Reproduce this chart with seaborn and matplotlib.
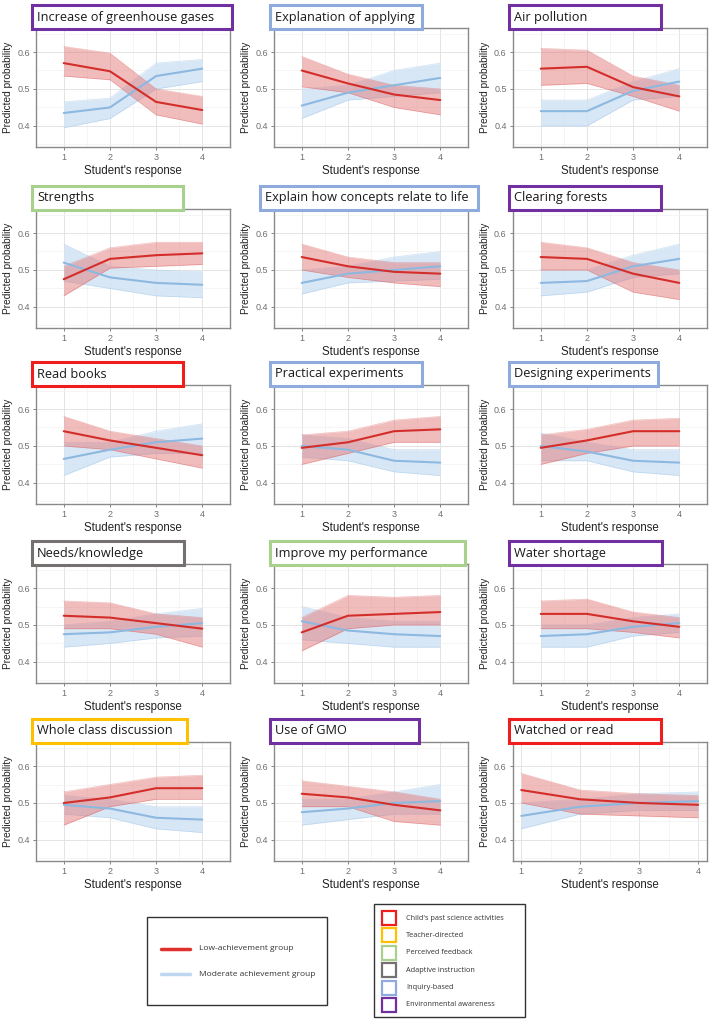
import numpy as np
import pandas as pd
import seaborn as sns
import matplotlib
matplotlib.use("Agg")
import matplotlib.pyplot as plt
from matplotlib.patches import Rectangle
from matplotlib.lines import Line2D

# ---------------- data ----------------
responses = [1, 2, 3, 4]

titles = [
    "Increase of greenhouse gases", "Explanation of applying", "Air pollution",
    "Strengths", "Explain how concepts relate to life", "Clearing forests",
    "Read books", "Practical experiments", "Designing experiments",
    "Needs/knowledge", "Improve my performance", "Water shortage",
    "Whole class discussion", "Use of GMO", "Watched or read",
]
categories = [
    "Environmental awareness", "Inquiry-based", "Environmental awareness",
    "Perceived feedback", "Inquiry-based", "Environmental awareness",
    "Child's past science activities", "Inquiry-based", "Inquiry-based",
    "Adaptive instruction", "Perceived feedback", "Environmental awareness",
    "Teacher-directed", "Environmental awareness", "Child's past science activities",
]

# Low-achievement group: centre line, lower and upper edge of the bundle
low_mean = [
    [0.570, 0.548, 0.465, 0.443], [0.550, 0.515, 0.485, 0.470], [0.555, 0.560, 0.505, 0.480],
    [0.475, 0.530, 0.540, 0.545], [0.535, 0.510, 0.495, 0.490], [0.535, 0.530, 0.490, 0.465],
    [0.540, 0.515, 0.495, 0.475], [0.495, 0.510, 0.540, 0.545], [0.495, 0.515, 0.540, 0.540],
    [0.525, 0.520, 0.505, 0.490], [0.480, 0.525, 0.530, 0.535], [0.530, 0.530, 0.510, 0.495],
    [0.500, 0.515, 0.540, 0.540], [0.525, 0.515, 0.495, 0.480], [0.535, 0.510, 0.500, 0.495],
]
low_lo = [
    [0.535, 0.525, 0.430, 0.405], [0.506, 0.490, 0.450, 0.430], [0.510, 0.515, 0.480, 0.440],
    [0.430, 0.505, 0.510, 0.515], [0.500, 0.480, 0.465, 0.455], [0.500, 0.500, 0.440, 0.420],
    [0.500, 0.490, 0.465, 0.440], [0.450, 0.480, 0.510, 0.510], [0.450, 0.480, 0.500, 0.500],
    [0.490, 0.490, 0.475, 0.440], [0.430, 0.490, 0.500, 0.500], [0.490, 0.490, 0.480, 0.465],
    [0.440, 0.490, 0.510, 0.510], [0.490, 0.490, 0.450, 0.440], [0.500, 0.470, 0.465, 0.460],
]
low_hi = [
    [0.615, 0.597, 0.500, 0.480], [0.588, 0.540, 0.510, 0.500], [0.610, 0.605, 0.535, 0.510],
    [0.510, 0.560, 0.575, 0.575], [0.570, 0.535, 0.520, 0.520], [0.575, 0.560, 0.520, 0.500],
    [0.580, 0.540, 0.520, 0.500], [0.530, 0.540, 0.570, 0.580], [0.530, 0.545, 0.570, 0.575],
    [0.565, 0.560, 0.530, 0.520], [0.520, 0.580, 0.575, 0.580], [0.565, 0.570, 0.535, 0.520],
    [0.530, 0.550, 0.570, 0.575], [0.560, 0.545, 0.530, 0.510], [0.580, 0.535, 0.525, 0.520],
]

# Moderate achievement group
mod_mean = [
    [0.435, 0.450, 0.535, 0.555], [0.455, 0.490, 0.510, 0.530], [0.440, 0.440, 0.495, 0.520],
    [0.520, 0.480, 0.465, 0.460], [0.465, 0.490, 0.500, 0.510], [0.465, 0.470, 0.510, 0.530],
    [0.465, 0.490, 0.510, 0.520], [0.500, 0.490, 0.460, 0.455], [0.500, 0.485, 0.460, 0.455],
    [0.475, 0.480, 0.495, 0.505], [0.510, 0.485, 0.475, 0.470], [0.470, 0.475, 0.495, 0.505],
    [0.495, 0.485, 0.460, 0.455], [0.475, 0.485, 0.500, 0.505], [0.465, 0.490, 0.500, 0.505],
]
mod_lo = [
    [0.395, 0.420, 0.500, 0.520], [0.420, 0.470, 0.480, 0.490], [0.400, 0.400, 0.470, 0.480],
    [0.470, 0.450, 0.430, 0.425], [0.435, 0.465, 0.470, 0.475], [0.430, 0.440, 0.480, 0.490],
    [0.420, 0.470, 0.480, 0.480], [0.470, 0.460, 0.430, 0.420], [0.460, 0.460, 0.430, 0.420],
    [0.440, 0.450, 0.465, 0.470], [0.460, 0.450, 0.440, 0.440], [0.440, 0.440, 0.470, 0.480],
    [0.470, 0.460, 0.430, 0.420], [0.440, 0.455, 0.470, 0.470], [0.430, 0.470, 0.480, 0.480],
]
mod_hi = [
    [0.465, 0.475, 0.570, 0.580], [0.500, 0.510, 0.550, 0.570], [0.470, 0.470, 0.520, 0.555],
    [0.570, 0.510, 0.500, 0.495], [0.500, 0.510, 0.535, 0.550], [0.500, 0.500, 0.540, 0.570],
    [0.510, 0.510, 0.540, 0.560], [0.530, 0.520, 0.490, 0.490], [0.535, 0.510, 0.490, 0.490],
    [0.500, 0.510, 0.530, 0.545], [0.550, 0.520, 0.510, 0.510], [0.500, 0.500, 0.520, 0.530],
    [0.520, 0.510, 0.490, 0.490], [0.510, 0.510, 0.530, 0.550], [0.500, 0.510, 0.525, 0.530],
]

group_labels = ["Low-achievement group", "Moderate achievement group"]
category_names = ["Child's past science activities", "Teacher-directed", "Perceived feedback",
                  "Adaptive instruction", "Inquiry-based", "Environmental awareness"]
category_colors = ["#f01d1d", "#ffc000", "#a9d18e", "#767171", "#8faadc", "#7030a0"]
cat_color = dict(zip(category_names, category_colors))

# ---------------- style ----------------
sns.set_theme(style="white")
plt.rcParams["font.family"] = ["Liberation Sans", "DejaVu Sans"]

W, H = 711, 1024
fig = plt.figure(figsize=(W / 100, H / 100), dpi=100)

col_left = [36, 274, 513]
row_top = [28, 209, 385, 564, 742]
ax_w, ax_h = 194, 119
box_left = [32, 270, 509, 32, 260, 509, 32, 270, 509, 32, 270, 509, 32, 270, 509]
box_w = [200, 152, 152, 151, 218, 152, 151, 152, 149, 152, 195, 153, 155, 149, 152]

RED = "#d42e2a"
RED_FILL = "#e27a7b"
BLUE = "#9fc5e8"
BLUE_FILL = "#cfe2f4"

for i, title in enumerate(titles):
    r, c = divmod(i, 3)
    left = col_left[c]
    top = row_top[r]
    ax = fig.add_axes([left / W, 1 - (top + ax_h) / H, ax_w / W, ax_h / H])

    df = pd.DataFrame({
        "response": responses * 2,
        "prob": mod_mean[i] + low_mean[i],
        "group": [group_labels[1]] * 4 + [group_labels[0]] * 4,
    })

    # bundles (moderate first, low on top)
    ax.fill_between(responses, mod_lo[i], mod_hi[i], color=BLUE_FILL, alpha=0.8, lw=0, zorder=2)
    ax.plot(responses, mod_lo[i], color=BLUE, lw=0.5, alpha=0.5, zorder=2)
    ax.plot(responses, mod_hi[i], color=BLUE, lw=0.5, alpha=0.5, zorder=2)
    ax.fill_between(responses, low_lo[i], low_hi[i], color=RED_FILL, alpha=0.5, lw=0, zorder=3)
    ax.plot(responses, low_lo[i], color=RED, lw=0.5, alpha=0.3, zorder=3)
    ax.plot(responses, low_hi[i], color=RED, lw=0.5, alpha=0.3, zorder=3)
    sns.lineplot(data=df, x="response", y="prob", hue="group",
                 palette={group_labels[0]: RED, group_labels[1]: "#8db8e0"},
                 linewidth=1.5, legend=False, ax=ax, zorder=4)

    ax.set_ylim(0.343, 0.665)
    if i == 14:
        ax.set_xlim(0.86, 4.15)
    else:
        ax.set_xlim(0.4, 4.6)
    ax.set_xticks(responses)
    ax.set_yticks([0.4, 0.5, 0.6])
    ax.set_yticklabels(["0.4", "0.5", "0.6"])
    ax.set_xticks([1.5, 2.5, 3.5], minor=True)
    ax.set_yticks([0.35, 0.45, 0.55, 0.65], minor=True)
    ax.grid(True, which="major", color="#e4e4e4", lw=0.7, zorder=0)
    ax.grid(True, which="minor", color="#f2f2f2", lw=0.5, zorder=0)
    ax.set_axisbelow(True)
    for s in ax.spines.values():
        s.set_color("#8a8a8a")
        s.set_linewidth(1.0)
    ax.tick_params(axis="both", which="major", labelsize=6.5, colors="#6f6f6f",
                   length=2.5, width=0.6, pad=2, left=True, bottom=True)
    ax.tick_params(axis="both", which="minor", length=0)
    ax.set_xlabel("Student's response", fontsize=8.3, color="#222222", labelpad=2)
    ax.set_ylabel("Predicted probability", fontsize=7.3, color="#222222", labelpad=3)

    # title box
    bx = box_left[i] / W
    by = 1 - (top + 1) / H
    bh = 24 / H
    bw = box_w[i] / W
    rect = Rectangle((bx, by), bw, bh, transform=fig.transFigure, facecolor="white",
                     edgecolor=cat_color[categories[i]], linewidth=2.2, zorder=10)
    fig.add_artist(rect)
    fig.text(bx + 5 / W, by + bh / 2, title, fontsize=9.2, color="#1a1a1a",
             family=["Open Sans", "DejaVu Sans"], va="center", ha="left", zorder=11)

# ---------------- legend 1: groups ----------------
fig.add_artist(Rectangle((147 / W, 1 - 1005 / H), 180 / W, 88 / H, transform=fig.transFigure,
                         facecolor="white", edgecolor="#333333", linewidth=1.0))
for yy, col, lab in [(949, "#e0302c", group_labels[0]), (974, "#bcd7ef", group_labels[1])]:
    fig.add_artist(Line2D([161 / W, 190 / W], [1 - yy / H, 1 - yy / H], transform=fig.transFigure,
                          color=col, lw=2.5))
    fig.text(199 / W, 1 - yy / H, lab, fontsize=6.0, color="#333333", va="center", ha="left",
             family=["Open Sans", "DejaVu Sans"])

# ---------------- legend 2: categories ----------------
fig.add_artist(Rectangle((374 / W, 1 - 1017 / H), 151 / W, 113 / H, transform=fig.transFigure,
                         facecolor="white", edgecolor="#333333", linewidth=1.0))
for k, (name, col) in enumerate(zip(category_names, category_colors)):
    yc = 918 + k * 17.4
    fig.add_artist(Rectangle((382 / W, 1 - (yc + 7) / H), 14 / W, 14 / H, transform=fig.transFigure,
                             facecolor="white", edgecolor=col, linewidth=1.6))
    fig.text(406 / W, 1 - yc / H, name, fontsize=5.3, color="#333333", va="center", ha="left",
             family=["Open Sans", "DejaVu Sans"])

fig.savefig("out.png", dpi=100, facecolor="white")
